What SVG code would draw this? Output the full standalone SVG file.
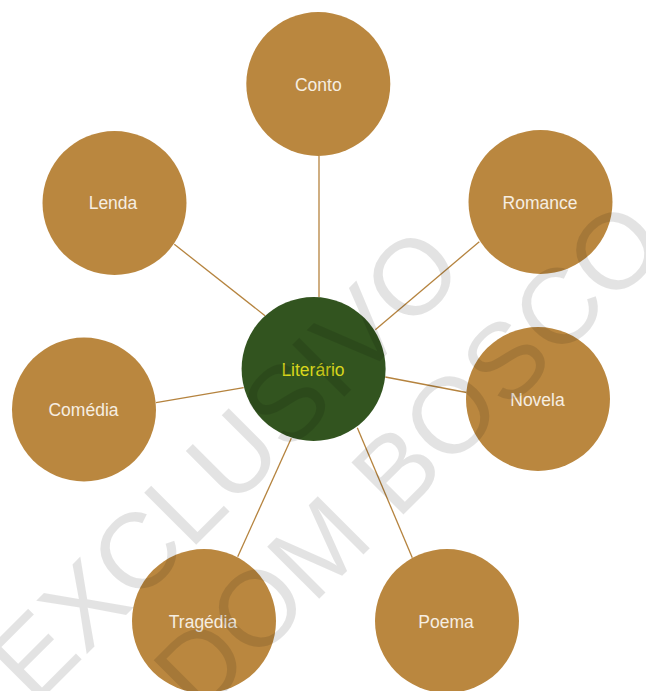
<svg xmlns="http://www.w3.org/2000/svg" width="646" height="691" viewBox="0 0 646 691">
  <style>
    .leaf { fill: #BA873F; }
    .hub { fill: #32541F; }
    .leaf-label { font-family: "Liberation Sans", Arial, sans-serif; font-size: 17.5px; fill: #F6EEE2; text-anchor: middle; }
    .hub-label { font-family: "Liberation Sans", Arial, sans-serif; font-size: 17.5px; fill: #D8D61C; text-anchor: middle; }
    .link { stroke: #B5833E; stroke-width: 1.3; fill: none; }
    .mark { font-family: "Liberation Sans", Arial, sans-serif; font-size: 107px; fill: #000; fill-opacity: 0.11; text-anchor: middle; }
  </style>

  <rect width="646" height="691" fill="#FFFFFF"/>

  <!-- connectors between the hub and each genre -->
  <g id="connectors">
    <line class="link" x1="319" y1="156" x2="319" y2="297"/>
    <line class="link" x1="174.3" y1="244.3" x2="265" y2="315.7"/>
    <line class="link" x1="479.3" y1="241.7" x2="375.3" y2="329.7"/>
    <line class="link" x1="385.3" y1="377" x2="466.5" y2="392.5"/>
    <line class="link" x1="357.3" y1="427.7" x2="412.3" y2="557.7"/>
    <line class="link" x1="291.3" y1="438.3" x2="237.7" y2="556.7"/>
    <line class="link" x1="156" y1="402.7" x2="243.7" y2="387.7"/>
  </g>

  <g id="node-conto">
    <circle class="leaf" cx="318.3" cy="84" r="72"/>
    <text class="leaf-label" x="318.3" y="90.5">Conto</text>
  </g>
  <g id="node-lenda">
    <circle class="leaf" cx="114.5" cy="203" r="72"/>
    <text class="leaf-label" x="113" y="209">Lenda</text>
  </g>
  <g id="node-romance">
    <circle class="leaf" cx="540.5" cy="202" r="72"/>
    <text class="leaf-label" x="540" y="208.5">Romance</text>
  </g>
  <g id="node-comedia">
    <circle class="leaf" cx="84" cy="409.5" r="72"/>
    <text class="leaf-label" x="83.5" y="416">Comédia</text>
  </g>
  <g id="node-literario">
    <circle class="hub" cx="313.6" cy="369" r="72"/>
    <text class="hub-label" x="313" y="375.5">Literário</text>
  </g>
  <g id="node-novela">
    <circle class="leaf" cx="538" cy="399" r="72"/>
    <text class="leaf-label" x="537.5" y="405.5">Novela</text>
  </g>
  <g id="node-tragedia">
    <circle class="leaf" cx="204" cy="621" r="72"/>
    <text class="leaf-label" x="203" y="627.5">Tragédia</text>
  </g>
  <g id="node-poema">
    <circle class="leaf" cx="447" cy="621" r="72"/>
    <text class="leaf-label" x="446" y="627.5">Poema</text>
  </g>

  <!-- diagonal watermark over everything -->
  <g id="watermark">
    <text class="mark" transform="translate(251 490) rotate(-45)">EXCLUSIVO</text>
    <text class="mark" transform="translate(435 483) rotate(-45)">DOM BOSCO</text>
  </g>
</svg>
